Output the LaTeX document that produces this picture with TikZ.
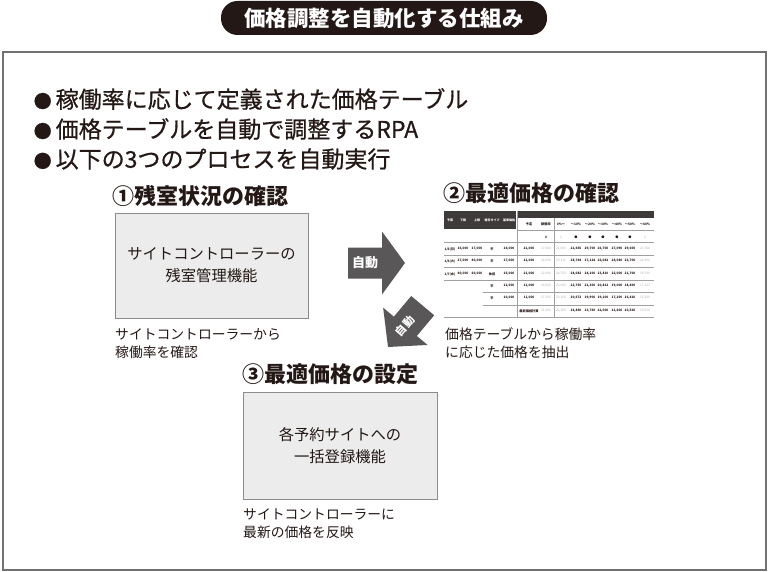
\documentclass[tikz,border=0pt]{standalone}
\usepackage{fontspec}
\setmainfont{Noto Sans CJK JP}
\newfontfamily\medfont{Noto Sans CJK JP}[FakeBold=0.7]
\usetikzlibrary{positioning}

\definecolor{inkdark}{HTML}{231815}
\definecolor{framegray}{HTML}{727171}
\definecolor{boxfill}{HTML}{ECECEC}
\definecolor{boxline}{HTML}{8C8C8C}
\definecolor{arrowgray}{HTML}{595757}
\definecolor{tabdark}{HTML}{3E3A39}
\definecolor{tabline}{HTML}{A0A0A0}
\definecolor{tabgray}{HTML}{AAAAAA}

\newcommand{\bulletdot}{{\fontsize{18}{20}\selectfont●}\hspace{4pt}}

\tikzset{
	bullettext/.style={anchor=west, inner sep=0pt, text=inkdark, font=\medfont\fontsize{23}{28}\selectfont},
	heading/.style={anchor=west, inner sep=0pt, text=inkdark, font=\fontsize{22}{24}\bfseries\selectfont},
	panel/.style={draw=boxline, fill=boxfill, line width=0.8pt, align=center, text=inkdark, font=\fontsize{15.3}{22}\selectfont},
	caption/.style={anchor=north west, inner sep=0pt, align=left, text=inkdark, font=\fontsize{13.8}{18}\selectfont},
	autoarrow/.style={fill=arrowgray},
	autolabel/.style={text=white, inner sep=0pt, font=\fontsize{13}{14}\bfseries\selectfont},
	tabhead/.style={text=white, inner sep=0pt, font=\fontsize{3}{3}\bfseries\selectfont},
	tabb/.style={text=inkdark, inner sep=0pt, font=\fontsize{3.2}{3}\bfseries\selectfont},
	tabg/.style={text=tabgray, inner sep=0pt, font=\fontsize{3.2}{3}\selectfont},
	tabrule/.style={draw=tabline, line width=0.4pt}
}

\begin{document}
\begin{tikzpicture}[x=1pt,y=-1pt]
	\useasboundingbox (0,0) rectangle (768,572);
	
	% title and frame
	\node[fill=inkdark, rounded corners=16.5pt, minimum width=326pt, minimum height=34pt, text=white,
		font=\fontsize{21.5}{24}\bfseries\selectfont] (title) at (384,18) {価格調整を自動化する仕組み};
	\draw[draw=framegray, line width=1.5pt] (3,52) rectangle (766,570);
	
	% bullets
	\node[bullettext] (b1) at (33.5,99) {\bulletdot 稼働率に応じて定義された価格テーブル};
	\node[bullettext] (b2) at (33.5,129) {\bulletdot 価格テーブルを自動で調整するRPA};
	\node[bullettext] (b3) at (33.5,159) {\bulletdot 以下の3つのプロセスを自動実行};
	
	% step 1
	\node[heading] (h1) at (112,196) {①残室状況の確認};
	\node[panel, minimum width=193pt, minimum height=105pt] (zanshitsu) at (211.5,265.5) {サイトコントローラーの\\残室管理機能};
	\node[caption] (c1) at (115,328) {サイトコントローラーから\\稼働率を確認};
	
	% step 2
	\node[heading] (h2) at (443,193) {②最適価格の確認};
	\node[caption] (c2) at (445,327) {価格テーブルから稼働率\\に応じた価格を抽出};
	
	% step 3
	\node[heading] (h3) at (242,374) {③最適価格の設定};
	\node[panel, minimum width=194pt, minimum height=107pt] (ikkatsu) at (340,445.5) {各予約サイトへの\\一括登録機能};
	\node[caption] (c3) at (243,508) {サイトコントローラーに\\最新の価格を反映};
	
	% arrows
	\fill[autoarrow] (405,263) -- ++(-23,-31.5) -- ++(0,16) -- ++(-34,0) -- ++(0,31) -- ++(34,0) -- ++(0,16) -- cycle;
	\node[autolabel] (a1) at (365,263) {自動};
	\begin{scope}[shift={(388,347)}, rotate=230]
		\fill[autoarrow] (0,0) -- (-27,-29) -- (-27,-15) -- (-54,-15) -- (-54,15) -- (-27,15) -- (-27,29) -- cycle;
	\end{scope}
	\node[autolabel, rotate=49, font=\fontsize{11}{12}\bfseries\selectfont] (a2) at (405,326) {自動};
	
	% price table
	\fill[tabdark] (444,211) rectangle (516,229);
	\fill[tabdark] (518,211) rectangle (654,218);
	\draw[tabrule] (517,211) -- (517,317);
	\draw[tabrule] (554,218) -- (554,317);
	\draw[tabrule] (518,230) -- (654,230);
	\foreach \y in {242,255,267,280,317}
		\draw[tabrule] (444,\y) -- (654,\y);
	\foreach \y in {292,305}
		\draw[tabrule] (483,\y) -- (654,\y);
	
	\foreach \x/\t in {450/予算,463/下限,477/上限,492/曜日タイプ,509/基準価格}
		\node[tabhead] at (\x,220) {\t};
	\foreach \x/\t in {529/予定,546/稼働率,561/0\%〜,576/〜10\%,590/〜20\%,603/〜30\%,617/〜40\%,630/〜50\%,645/〜60\%}
		\node[tabb] at (\x,224) {\t};
	\foreach \x/\t/\s in {546/0/b,561/1/g,576/●/b,590/●/b,603/●/b,617/●/b,630/●/b,645/1/g}
		\node[tab\s] at (\x,237) {\t};
	
	\node[tabb] at (450,249) {1/5(月)};
	\node[tabb] at (450,261) {1/6(火)};
	\node[tabb] at (450,274) {1/7(水)};
	\foreach \x/\t in {463/{16,000},477/{17,000},492/平,509/{14,000}}
		\node[tabb] at (\x,249) {\t};
	\foreach \x/\t in {463/{27,000},477/{40,000},492/平,509/{17,000}}
		\node[tabb] at (\x,261) {\t};
	\foreach \x/\t in {463/{40,000},477/{60,000},492/休前,509/{15,000}}
		\node[tabb] at (\x,274) {\t};
	\foreach \x/\t in {492/平,509/{12,000}}
		\node[tabb] at (\x,286) {\t};
	\foreach \x/\t in {492/平,509/{10,000}}
		\node[tabb] at (\x,298) {\t};
	
	\foreach \x/\t/\s in {529/{21,000}/b,546/{17,000}/g,561/{21,000}/g,576/{21,656}/b,590/{29,700}/b,603/{26,700}/b,617/{27,090}/b,630/{29,600}/b,645/{23,760}/g}
		\node[tab\s] at (\x,249) {\t};
	\foreach \x/\t/\s in {529/{21,000}/b,546/{24,000}/g,561/{29,311}/g,576/{28,744}/b,590/{27,124}/b,603/{26,082}/b,617/{24,040}/b,630/{23,700}/b,645/{22,900}/g}
		\node[tab\s] at (\x,261) {\t};
	\foreach \x/\t/\s in {529/{21,000}/b,546/{22,000}/g,561/{24,752}/g,576/{28,082}/b,590/{24,100}/b,603/{23,810}/b,617/{22,000}/b,630/{21,700}/b,645/{19,700}/g}
		\node[tab\s] at (\x,274) {\t};
	\foreach \x/\t/\s in {529/{11,000}/b,546/{16,000}/g,561/{23,000}/g,576/{22,750}/b,590/{21,300}/b,603/{20,812}/b,617/{19,000}/b,630/{18,400}/b,645/{17,127}/g}
		\node[tab\s] at (\x,286) {\t};
	\foreach \x/\t/\s in {529/{11,000}/b,546/{17,200}/g,561/{23,100}/g,576/{20,672}/b,590/{19,900}/b,603/{19,100}/b,617/{17,200}/b,630/{16,410}/b,645/{15,200}/g}
		\node[tab\s] at (\x,298) {\t};
	\foreach \x/\t/\s in {529/最新価格計算/b,546/{21,000}/g,561/{23,300}/g,576/{26,840}/b,590/{23,760}/b,603/{22,000}/b,617/{21,600}/b,630/{20,520}/b,645/{19,050}/g}
		\node[tab\s] at (\x,311) {\t};
\end{tikzpicture}
\end{document}
